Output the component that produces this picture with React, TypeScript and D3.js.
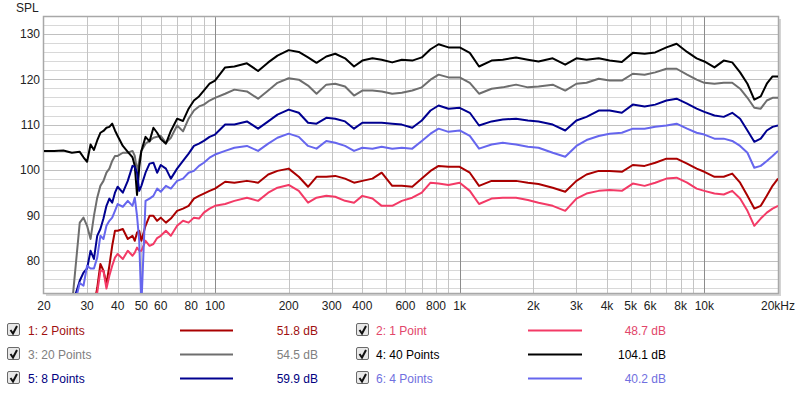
import React, { useEffect, useRef } from "react";
import * as d3 from "d3";

// frequency points (Hz) shared by every trace
const FREQS = [
  20, 22, 24, 26, 28, 29, 30, 31, 32, 33, 34, 35, 36, 37, 38, 39, 40,
  42, 44, 46, 47, 48, 49, 50,
  52, 54, 56, 58, 60,
  63, 66, 70, 74, 78, 82, 86, 90, 95, 100,
  110, 120, 135, 150, 165, 180, 200, 220, 240, 260, 285, 310, 340, 370, 400, 440, 480, 530, 580, 640, 700, 760, 820, 900, 1000,
  1100, 1200, 1350, 1500, 1700, 1900, 2100, 2400, 2700, 3000, 3300, 3700, 4100, 4600, 5100, 5700, 6300, 7000, 7700, 8500, 9300, 10000,
  11000, 12000, 13000, 14000, 15000, 16000, 17000, 18000, 19000, 20000,
];

// SPL in dB, one list per trace
const SPL_2_POINTS = [
  null, null, null, null, null, null, null, null, 70, 74, 79.3, 77.8, 74.9, 78.9, 83.3, 86.6, 86.6,
  87.0, 84.8, 85.5, 84.4, 86.2, 86.6, 84.4,
  87.7, 89.9, 89.9, 88.8, 89.5,
  88.4, 89.3, 91.0, 91.5, 92.1, 93.7, 94.3, 94.8, 95.4, 95.9,
  97.4, 97.2, 97.6, 97.2, 99.0, 99.8, 100.3, 98.5, 96.3, 98.5, 98.5, 98.7, 98.1, 97.2, 97.6, 98.1, 99.4, 96.5, 96.5, 96.3, 98.1, 99.8, 100.9, 100.7, 100.7,
  99.4, 96.5, 97.6, 97.6, 97.6, 97.2, 96.9, 96.1, 95.2, 97.6, 99.0, 99.8, 99.8, 99.6, 101.1, 100.9, 101.6, 102.5, 102.5, 101.4, 100.3, 99.6,
  98.5, 98.5, 99.2, 97.2, 94.3, 91.5, 92.1, 94.3, 96.5, 98.1,
];
const SPL_1_POINT = [
  null, null, null, null, null, null, null, null, 70, 73, 77.8, 77.8, 73.9, 76.7, 78.9, 80.7, 81.5,
  80.4, 82.2, 81.1, 81.8, 82.9, 82.2, 82.2,
  84.4, 83.3, 83.7, 85.0, 85.5,
  86.6, 85.5, 87.7, 88.8, 88.4, 89.5, 89.3, 90.6, 91.5, 92.1,
  92.5, 93.2, 93.9, 93.2, 95.0, 96.1, 96.7, 95.4, 92.8, 93.9, 94.3, 94.1, 93.2, 92.8, 94.3, 93.7, 92.1, 92.1, 93.2, 93.9, 95.0, 97.2, 97.0, 96.7, 97.2,
  95.4, 92.5, 93.7, 93.9, 93.9, 93.4, 92.8, 92.1, 91.0, 93.7, 94.8, 95.4, 95.6, 95.4, 97.0, 96.5, 97.2, 98.1, 98.3, 97.2, 95.9, 95.4,
  94.8, 94.6, 95.4, 93.7, 91.0, 87.7, 89.3, 90.6, 91.5, 92.1,
];
const SPL_20_POINTS = [
  null, null, null, 70, 88.4, 89.5, 87.7, 84.8, 89.9, 93.9, 96.5, 97.6, 99.4, 100.3, 102.0, 103.1, 103.1,
  103.8, 103.8, 104.2, 103.1, 99.8, 102.0, 104.2,
  105.8, 106.4, 107.1, 107.3, 107.5,
  106.0, 107.1, 109.8, 108.5, 111.3, 113.1, 114.0, 114.4, 115.3, 115.9,
  116.8, 117.7, 117.3, 115.7, 117.5, 119.2, 120.2, 119.9, 118.6, 116.8, 118.8, 119.0, 118.4, 116.4, 117.5, 117.5, 117.3, 116.8, 117.0, 117.5, 118.2, 119.9, 121.0, 120.4, 120.4,
  119.2, 116.8, 117.9, 118.2, 118.8, 118.2, 118.4, 118.8, 117.5, 119.0, 119.2, 120.1, 119.7, 119.7, 121.2, 121.0, 121.5, 122.3, 122.3, 121.0, 119.9, 119.2,
  119.0, 119.2, 119.2, 117.9, 115.9, 113.7, 113.5, 115.3, 115.9, 115.9,
];
const SPL_40_POINTS = [
  104.2, 104.2, 104.3, 103.8, 104.0, 102.8, 101.8, 105.6, 104.4, 106.5, 108.2, 108.6, 109.3, 109.5, 110.2, 108.7, 107.5,
  105.3, 104.0, 102.8, 100.9, 94.5, 100.5, 104.2,
  107.3, 106.3, 109.3, 108.2, 106.8,
  105.8, 108.6, 111.3, 110.8, 113.5, 115.3, 116.2, 117.5, 119.0, 119.7,
  122.6, 122.8, 123.5, 121.8, 123.7, 125.2, 126.4, 126.0, 124.8, 123.6, 125.0, 125.6, 124.6, 122.8, 124.1, 124.6, 124.3, 123.7, 124.3, 124.1, 124.8, 126.6, 127.7, 127.0, 127.0,
  125.8, 122.8, 124.1, 124.3, 124.8, 124.3, 123.9, 124.6, 123.2, 124.6, 124.3, 124.6, 124.1, 123.8, 125.8, 125.6, 125.9, 127.0, 127.8, 126.0, 124.6, 123.9,
  122.6, 124.1, 123.7, 121.5, 119.0, 115.5, 116.2, 119.0, 120.6, 120.6,
];
const SPL_8_POINTS = [
  null, null, null, 70, 75.6, 77.4, 78.3, 82.2, 80.4, 85.5, 87.0, 89.3, 92.1, 93.7, 92.8, 95.0, 96.3,
  95.0, 97.6, 100.9, 100.7, 99.4, 95.4, 96.5,
  99.4, 101.4, 101.6, 99.4, 101.1,
  100.3, 98.1, 100.3, 102.0, 103.6, 105.3, 105.8, 106.4, 107.3, 107.8,
  110.0, 110.0, 110.7, 109.1, 110.7, 112.2, 113.3, 112.6, 110.4, 110.2, 111.5, 111.3, 110.7, 109.1, 110.4, 110.4, 110.4, 110.2, 110.0, 109.3, 110.9, 113.1, 114.2, 113.5, 113.7,
  112.6, 109.8, 110.7, 111.1, 111.3, 110.9, 110.7, 110.0, 108.7, 110.9, 111.7, 113.1, 113.1, 112.6, 114.4, 114.0, 114.4, 115.3, 115.7, 114.6, 113.5, 112.8,
  112.0, 111.7, 112.6, 111.3, 108.7, 106.2, 106.9, 108.7, 109.5, 109.8,
];
const SPL_4_POINTS = [
  null, null, null, 68, 75.1, 74.5, 78.9, 78.3, 78.3, 80.7, 85.5, 84.8, 87.7, 88.8, 89.5, 91.0, 92.5,
  91.9, 93.2, 92.1, 93.9, 89.9, 84.4, 70,
  93.2, 93.7, 94.3, 95.9, 95.2,
  96.5, 95.9, 97.6, 98.1, 99.4, 99.8, 100.9, 101.6, 102.7, 103.4,
  104.2, 104.9, 105.3, 104.2, 105.8, 107.1, 108.0, 107.3, 105.3, 104.7, 106.4, 106.0, 105.3, 104.2, 104.9, 104.7, 105.1, 104.7, 104.9, 104.7, 106.4, 108.0, 109.1, 108.4, 108.7,
  107.5, 104.7, 105.6, 106.0, 105.6, 105.1, 104.9, 103.8, 102.9, 105.3, 106.6, 107.5, 108.0, 108.2, 109.1, 109.1, 109.5, 109.8, 110.2, 109.1, 108.2, 107.8,
  106.9, 106.9, 106.4, 105.3, 103.8, 100.5, 100.9, 102.0, 103.1, 104.2,
];

const SERIES = [SPL_2_POINTS, SPL_1_POINT, SPL_20_POINTS, SPL_40_POINTS, SPL_8_POINTS, SPL_4_POINTS];
const NAMES = ["1: 2 Points", "2: 1 Point", "3: 20 Points", "4: 40 Points", "5: 8 Points", "6: 4 Points"];
const LEVELS = ["51.8 dB", "48.7 dB", "54.5 dB", "104.1 dB", "59.9 dB", "40.2 dB"];
const COLORS = ["#aa0000", "#f33a66", "#6e6e6e", "#000000", "#000090", "#6666ee"];
const TEXT_COLORS = ["#a01010", "#e2466a", "#808080", "#000000", "#000080", "#7070e0"];

const X_TICKS = [20, 30, 40, 50, 60, 80, 100, 200, 300, 400, 600, 800, 1000, 2000, 3000, 4000, 5000, 6000, 8000, 10000, 20000];
const X_LABELS = ["20", "30", "40", "50", "60", "80", "100", "200", "300", "400", "600", "800", "1k", "2k", "3k", "4k", "5k", "6k", "8k", "10k", "20kHz"];
const Y_TICKS = [80, 90, 100, 110, 120, 130];

const FONT = "'Liberation Sans', Arial, sans-serif";

const App = () => {
  const svgRef = useRef(null);

  useEffect(() => {
    const width = 800;
    const height = 393;
    const left = 44;
    const right = 778;
    const top = 17;
    const bottom = 293;

    const svg = d3.select(svgRef.current);
    svg.selectAll("*").remove();
    svg.attr("width", width).attr("height", height);

    const x = d3.scaleLog().domain([20, 20000]).range([left, right]);
    const y = d3.scaleLinear().domain([72.9, 133.7]).range([bottom, top]);

    // frame with a soft shadow
    svg.append("rect").attr("x", left + 2).attr("y", top + 2).attr("width", right - left + 1).attr("height", bottom - top + 1).attr("fill", "#d4d4d4");
    svg.append("rect").attr("x", left).attr("y", top).attr("width", right - left).attr("height", bottom - top).attr("fill", "#fff");

    const grid = svg.append("g");
    d3.range(74, 134, 2).forEach((v) => {
      grid.append("line")
        .attr("x1", left).attr("x2", right)
        .attr("y1", Math.round(y(v)) + 0.5).attr("y2", Math.round(y(v)) + 0.5)
        .attr("stroke", v % 10 === 0 ? "#c0c0c0" : "#d8d8d8");
    });
    x.ticks().forEach((f) => {
      if (f <= 20 || f >= 20000) return;
      const decade = [100, 1000, 10000].includes(f);
      grid.append("line")
        .attr("x1", Math.round(x(f)) + 0.5).attr("x2", Math.round(x(f)) + 0.5)
        .attr("y1", top).attr("y2", bottom)
        .attr("stroke", decade ? "#8c8c8c" : "#c4c4c4");
    });

    svg.append("rect").attr("x", left - 0.5).attr("y", top - 0.5).attr("width", right - left + 1).attr("height", bottom - top + 1)
      .attr("fill", "none").attr("stroke", "#a8a8a8").attr("stroke-width", 1.5);

    svg.append("clipPath").attr("id", "plot-clip")
      .append("rect").attr("x", left).attr("y", top).attr("width", right - left).attr("height", bottom - top);

    const line = d3.line()
      .defined((d) => d[1] !== null)
      .x((d) => x(d[0]))
      .y((d) => y(d[1]));

    const traces = svg.append("g").attr("clip-path", "url(#plot-clip)");
    SERIES.forEach((s, i) => {
      traces.append("path")
        .datum(FREQS.map((f, k) => [f, s[k]]))
        .attr("d", line)
        .attr("fill", "none")
        .attr("stroke", COLORS[i])
        .attr("stroke-width", 2)
        .attr("stroke-linejoin", "round");
    });

    // axis labels
    svg.append("text").attr("x", 16).attr("y", 12).text("SPL")
      .style("font-family", FONT).style("font-size", "12px").attr("fill", "#222");
    Y_TICKS.forEach((v) => {
      svg.append("text").attr("x", 40).attr("y", y(v) + 4.5).attr("text-anchor", "end").text(v)
        .style("font-family", FONT).style("font-size", "12px").attr("fill", "#222");
    });
    X_TICKS.forEach((f, i) => {
      svg.append("text").attr("x", x(f)).attr("y", 310).attr("text-anchor", "middle").text(X_LABELS[i])
        .style("font-family", FONT).style("font-size", "12px").attr("fill", "#222");
    });

    // legend
    const cols = [
      { box: 7, text: 28, l1: 180, l2: 233, val: 318 },
      { box: 356, text: 376, l1: 528, l2: 582, val: 666 },
    ];
    NAMES.forEach((name, i) => {
      const c = cols[i % 2];
      const cy = 330 + Math.floor(i / 2) * 24;
      const g = svg.append("g");
      g.append("rect").attr("x", c.box + 0.5).attr("y", cy - 6.5).attr("width", 12).attr("height", 12).attr("rx", 1.5)
        .attr("fill", "#e8e8e8").attr("stroke", "#6a6a6a");
      g.append("path").attr("d", `M${c.box + 3.5},${cy} L${c.box + 6},${cy + 3.5} L${c.box + 10},${cy - 4}`)
        .attr("fill", "none").attr("stroke", "#111").attr("stroke-width", 2);
      g.append("text").attr("x", c.text).attr("y", cy + 4.5).text(name)
        .style("font-family", FONT).style("font-size", "12px").attr("fill", TEXT_COLORS[i]);
      g.append("line").attr("x1", c.l1).attr("x2", c.l2).attr("y1", cy + 0.5).attr("y2", cy + 0.5)
        .attr("stroke", COLORS[i]).attr("stroke-width", 2);
      g.append("text").attr("x", c.val).attr("y", cy + 4.5).attr("text-anchor", "end").text(LEVELS[i])
        .style("font-family", FONT).style("font-size", "12px").attr("fill", TEXT_COLORS[i]);
    });
  }, []);

  return (
    <svg ref={svgRef} style={{ position: "absolute", left: 0, top: 0, background: "#fff" }}></svg>
  );
};

export default App;
